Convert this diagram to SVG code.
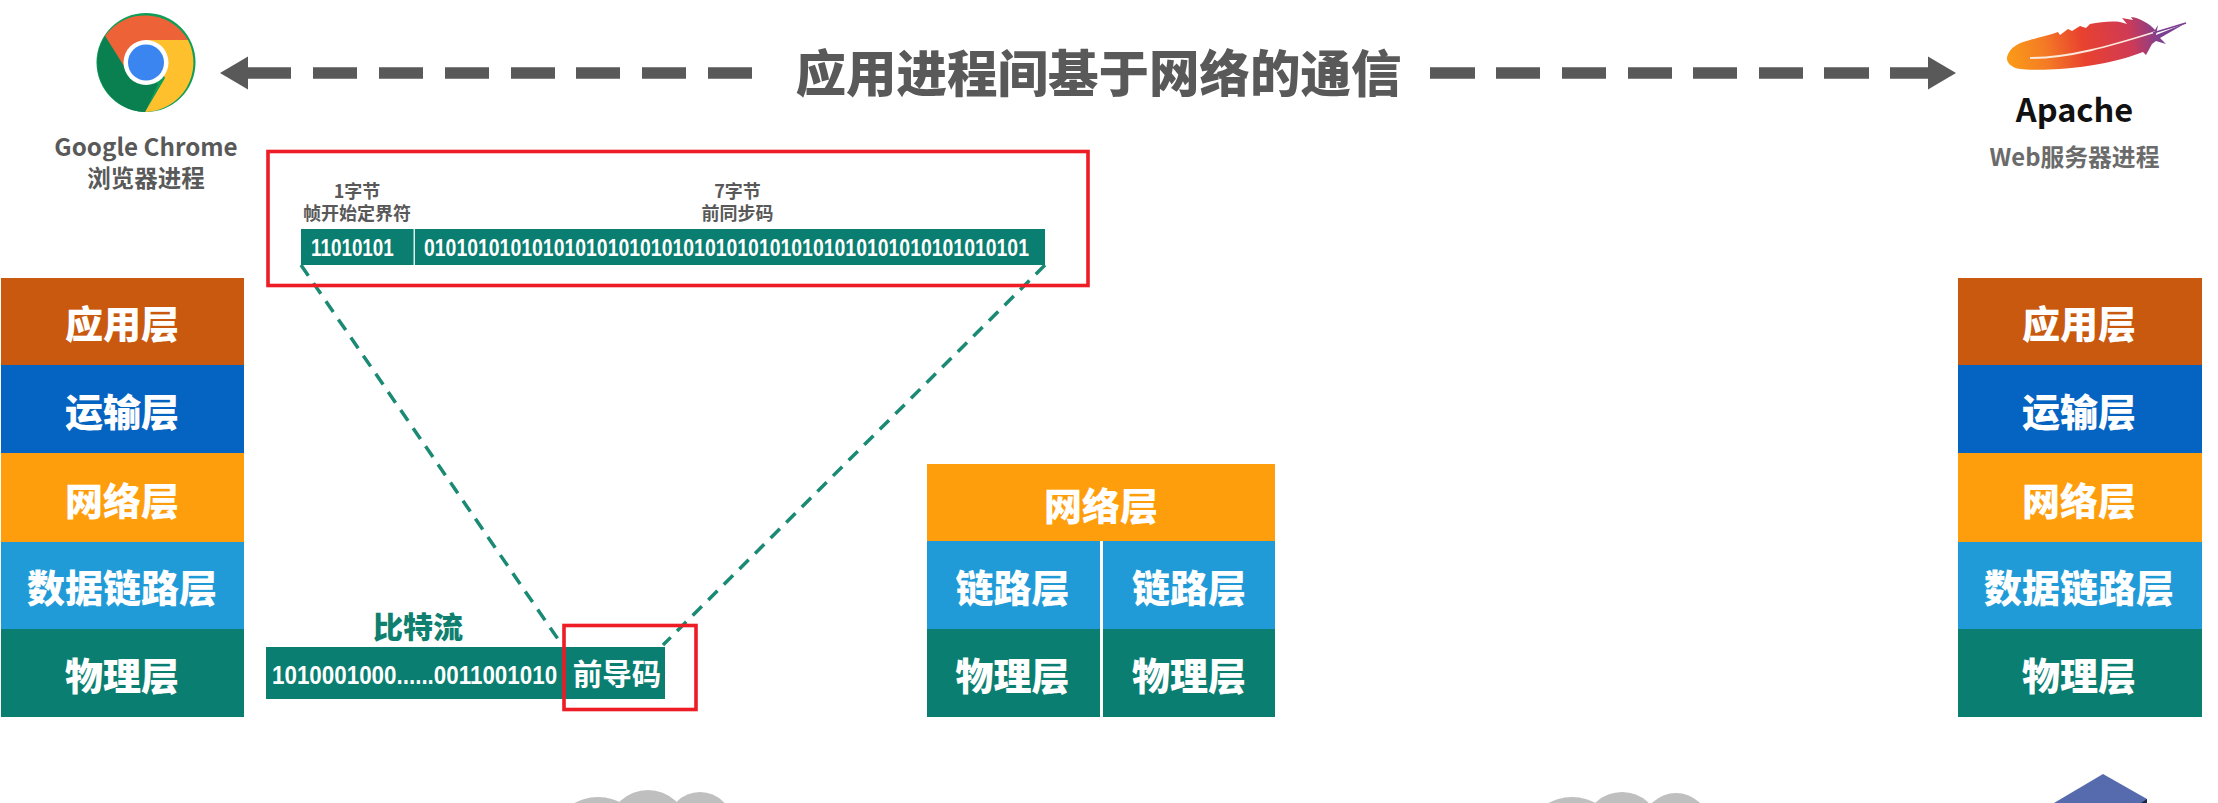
<svg xmlns="http://www.w3.org/2000/svg" width="2218" height="803" viewBox="0 0 2218 803">
<defs>
<style>
text{font-family:"Noto Sans CJK SC","Noto Sans",sans-serif;font-weight:700;text-anchor:middle}
.g{fill:#595959}
.w{fill:#fff}
.ly{fill:#fff;font-size:38px;font-weight:900}
.small{fill:#595959;font-size:18px}
.bits{font-family:"Liberation Sans",Arial,sans-serif;fill:#fff;text-anchor:start}
.dash{stroke:#595959;stroke-width:11.5;fill:none}
.teal{stroke:#1A8A74;stroke-width:3.5;stroke-dasharray:13 9;fill:none}
.red{fill:none;stroke:#EE1C25;stroke-width:3.6}
.app{fill:#C8590F}.tra{fill:#0563C1}.net{fill:#FF9E0C}.lnk{fill:#219BD8}.phy{fill:#0A7E70}
.cloud{fill:#BFBFBF}
</style>
<linearGradient id="fe" x1="2007" y1="60" x2="2160" y2="30" gradientUnits="userSpaceOnUse">
<stop offset="0" stop-color="#FB9C17"/><stop offset=".25" stop-color="#F47B25"/><stop offset=".5" stop-color="#E8412F"/><stop offset=".8" stop-color="#CF3A55"/><stop offset="1" stop-color="#7B3F92"/>
</linearGradient>
</defs>
<rect width="2218" height="803" fill="#fff"/>

<g id="title"><text class="g" x="1098.5" y="92" font-size="50.5" style="font-weight:900">应用进程间基于网络的通信</text></g>

<g id="connectors">
<path class="dash" d="M245 73H291M313 73H357M379 73H423M445 73H489M511 73H555M576 73H620M642 73H686M708 73H752"/>
<polygon points="220,73 248,56.5 248,89.500" fill="#595959"/>
<path class="dash" d="M1430 73H1475M1496 73H1540M1562 73H1606M1628 73H1672M1693 73H1737M1759 73H1803M1824 73H1869M1890 73H1931"/>
<polygon points="1956,73 1928,56.500 1928,89.500" fill="#595959"/>
<path class="teal" d="M301 265L560 642"/>
<path class="teal" d="M1045 265L663 645"/>
</g>

<g id="chrome">
<circle cx="146" cy="62.500" r="49.500" fill="#0F9D58"/>
<path d="M105 36A49.500 49.500 0 0 1 188 40L146 40L125 68Z" fill="#EE6238"/>
<path d="M188 40A49.500 49.500 0 0 1 145 112L165 78L146 40Z" fill="#FFC02D"/>
<path d="M105 36L125 68L146 80L158 84L145 112A49.500 49.500 0 0 1 105 36Z" fill="#0A8050"/>
<circle cx="146" cy="62.500" r="22.500" fill="#fff"/>
<circle cx="146" cy="62.500" r="18" fill="#3B85F1"/>
<text class="g" x="146" y="156" font-size="24.200">Google Chrome</text>
<text class="g" x="146" y="187" font-size="23.500">浏览器进程</text>
</g>

<g id="apache">
<path d="M2007 57C2010 47 2018 43 2030 40C2040 37 2050 35 2058 32L2060 35L2068 29L2072 31L2080 26L2086 28L2090 24C2100 22 2112 21 2120 22L2127 24L2122 18L2133 20L2131 17C2140 18 2150 24 2155 30L2158 25L2156 35L2186 23L2160 38L2166 44L2156 41L2152 44L2146 55L2143 52C2132 56 2120 60 2105 63C2090 66 2075 68 2060 69C2045 70 2030 70 2020 69C2012 68 2006 63 2007 57Z" fill="url(#fe)"/>
<path d="M2030 58C2070 58 2110 46 2155 32" stroke="#FBE9DC" stroke-width="1.800" fill="none"/>
<path d="M2153 33L2186 23" stroke="#7B3F92" stroke-width="1.800" fill="none"/>
<text x="2074.500" y="122" font-size="32.500" fill="#111">Apache</text>
<text x="2074.500" y="166" font-size="23.800" fill="#6B6B6B">Web服务器进程</text>
</g>

<g id="stack-left">
<rect class="app" x="1" y="278" width="243" height="88"/><text class="ly" x="122" y="338">应用层</text>
<rect class="tra" x="1" y="365" width="243" height="89"/><text class="ly" x="122" y="426">运输层</text>
<rect class="net" x="1" y="453" width="243" height="90"/><text class="ly" x="122" y="515">网络层</text>
<rect class="lnk" x="1" y="542" width="243" height="88"/><text class="ly" x="122" y="602">数据链路层</text>
<rect class="phy" x="1" y="629" width="243" height="88"/><text class="ly" x="122" y="690">物理层</text>
</g>

<g id="frame-detail">
<text class="small" x="357" y="198">1字节</text>
<text class="small" x="357" y="220">帧开始定界符</text>
<text class="small" x="737.500" y="198">7字节</text>
<text class="small" x="737.500" y="220">前同步码</text>
<rect class="phy" x="301" y="229" width="744" height="36"/>
<rect x="413.500" y="229" width="1.500" height="36" fill="#D8EFEA"/>
<text class="bits" transform="translate(311 256) scale(.82 1)" font-size="23">11010101</text>
<text class="bits" transform="translate(424 256) scale(.845 1)" font-size="23">01010101010101010101010101010101010101010101010101010101</text>
<rect class="red" x="268" y="151.500" width="820" height="134"/>
</g>

<g id="bitstream">
<text x="418" y="638" font-size="30" fill="#0F7F6F" style="font-weight:900">比特流</text>
<rect class="phy" x="266" y="647" width="399" height="52"/>
<text class="bits" transform="translate(272 684) scale(1 1.18)" font-size="22.400">1010001000......0011001010</text>
<text class="w" x="617" y="685" font-size="29.500">前导码</text>
<rect class="red" x="564" y="625.500" width="132" height="84"/>
</g>

<g id="router">
<rect class="net" x="927" y="464" width="348" height="77"/><text class="ly" x="1101" y="520">网络层</text>
<rect class="lnk" x="927" y="541" width="173" height="88"/><text class="ly" x="1012.500" y="602">链路层</text>
<rect class="lnk" x="1103" y="541" width="172" height="88"/><text class="ly" x="1189" y="602">链路层</text>
<rect class="phy" x="927" y="629" width="173" height="88"/><text class="ly" x="1012.500" y="690">物理层</text>
<rect class="phy" x="1103" y="629" width="172" height="88"/><text class="ly" x="1189" y="690">物理层</text>
</g>

<g id="stack-right">
<rect class="app" x="1958" y="278" width="244" height="88"/><text class="ly" x="2079" y="338">应用层</text>
<rect class="tra" x="1958" y="365" width="244" height="89"/><text class="ly" x="2079" y="426">运输层</text>
<rect class="net" x="1958" y="453" width="244" height="90"/><text class="ly" x="2079" y="515">网络层</text>
<rect class="lnk" x="1958" y="542" width="244" height="88"/><text class="ly" x="2079" y="602">数据链路层</text>
<rect class="phy" x="1958" y="629" width="244" height="88"/><text class="ly" x="2079" y="690">物理层</text>
</g>

<g id="cloud-1">
<ellipse class="cloud" cx="598" cy="825" rx="38" ry="28"/>
<ellipse class="cloud" cx="648" cy="825" rx="38" ry="35"/>
<ellipse class="cloud" cx="700" cy="825" rx="33" ry="33"/>
</g>
<g id="cloud-2">
<ellipse class="cloud" cx="1572" cy="825" rx="38" ry="28"/>
<ellipse class="cloud" cx="1622" cy="825" rx="36" ry="33"/>
<ellipse class="cloud" cx="1676" cy="825" rx="33" ry="32"/>
</g>
<g id="server">
<polygon points="2103,774 2147,799 2147,803 2054,803" fill="#566BAE"/>
<polygon points="2147,799 2147,803 2141,803" fill="#1B2440"/>
</g>
</svg>
